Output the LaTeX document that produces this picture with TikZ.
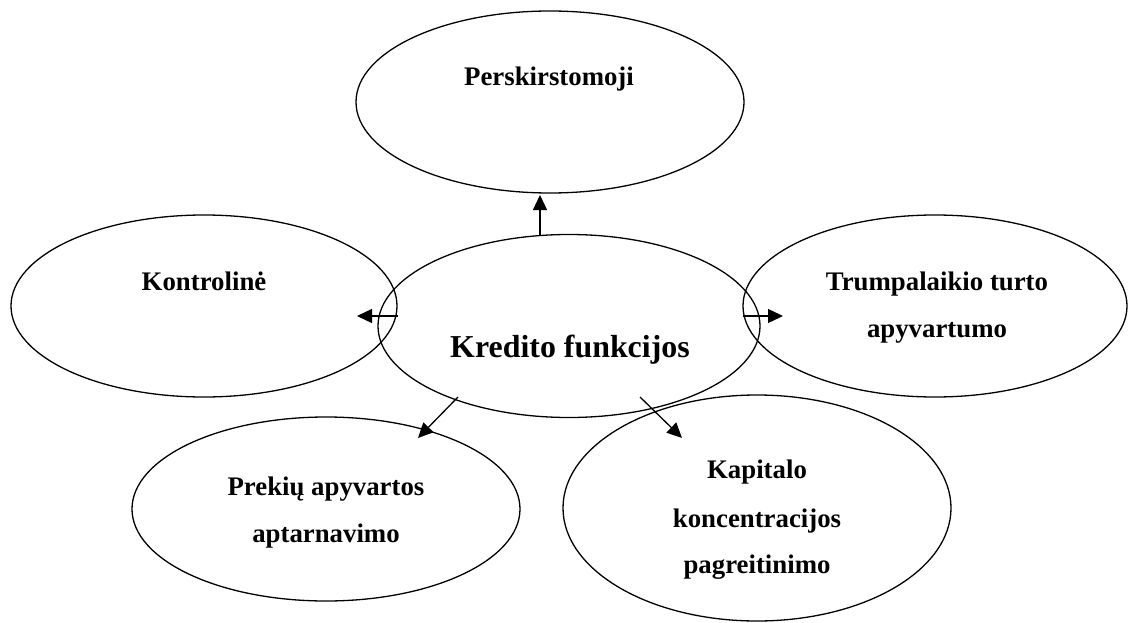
\documentclass[tikz,border=0pt]{standalone}
\usepackage{fontspec}
\setmainfont{Liberation Serif}
\usetikzlibrary{shapes.geometric,arrows.meta}
\begin{document}
\begin{tikzpicture}[x=1pt,y=-1pt,
  oval/.style={draw,ellipse,line width=1.3pt,inner sep=0pt},
  lbl/.style={anchor=base,font=\fontsize{26.8}{30}\selectfont\bfseries,inner sep=0pt},
  arr/.style={line width=1.3pt,-{Triangle[length=15pt,width=14pt]}}]
\useasboundingbox (0,0) rectangle (1129,623);
% function ovals
\node[oval,minimum width=388pt,minimum height=182pt] (top) at (550,102) {};
\node[oval,minimum width=386pt,minimum height=182pt] (left) at (204,306) {};
\node[oval,minimum width=384pt,minimum height=182pt] (right) at (935,306) {};
\node[oval,minimum width=388pt,minimum height=184pt] (botl) at (326,509) {};
\node[oval,minimum width=388pt,minimum height=226pt] (botr) at (757,508) {};
\node[oval,minimum width=382pt,minimum height=183pt] (ctr) at (569,326) {};
% labels
\node[lbl] (tTop) at (549,86) {Perskirstomoji};
\node[lbl] (tLeft) at (204,290) {Kontrolinė};
\node[lbl] (tRight1) at (937,290) {Trumpalaikio turto};
\node[lbl] (tRight2) at (937,337) {apyvartumo};
\node[lbl] (tBotl1) at (326,495) {Prekių apyvartos};
\node[lbl] (tBotl2) at (326,542) {aptarnavimo};
\node[lbl] (tBotr1) at (757,478) {Kapitalo};
\node[lbl] (tBotr2) at (757,527) {koncentracijos};
\node[lbl] (tBotr3) at (757,573) {pagreitinimo};
\node[lbl,font=\fontsize{31.9}{36}\selectfont\bfseries] (tCtr) at (570,357) {Kredito funkcijos};
% arrow end points
\coordinate (upA) at (540,235);   \coordinate (upB) at (540,195);
\coordinate (lfA) at (398,316);   \coordinate (lfB) at (357,316);
\coordinate (rtA) at (743,316);   \coordinate (rtB) at (783,316);
\coordinate (dlA) at (458,397);   \coordinate (dlB) at (418,438);
\coordinate (drA) at (640,397);   \coordinate (drB) at (682,438);
\draw[arr] (upA) -- (upB);
\draw[arr] (lfA) -- (lfB);
\draw[arr] (rtA) -- (rtB);
\draw[arr] (dlA) -- (dlB);
\draw[arr] (drA) -- (drB);
\end{tikzpicture}
\end{document}
